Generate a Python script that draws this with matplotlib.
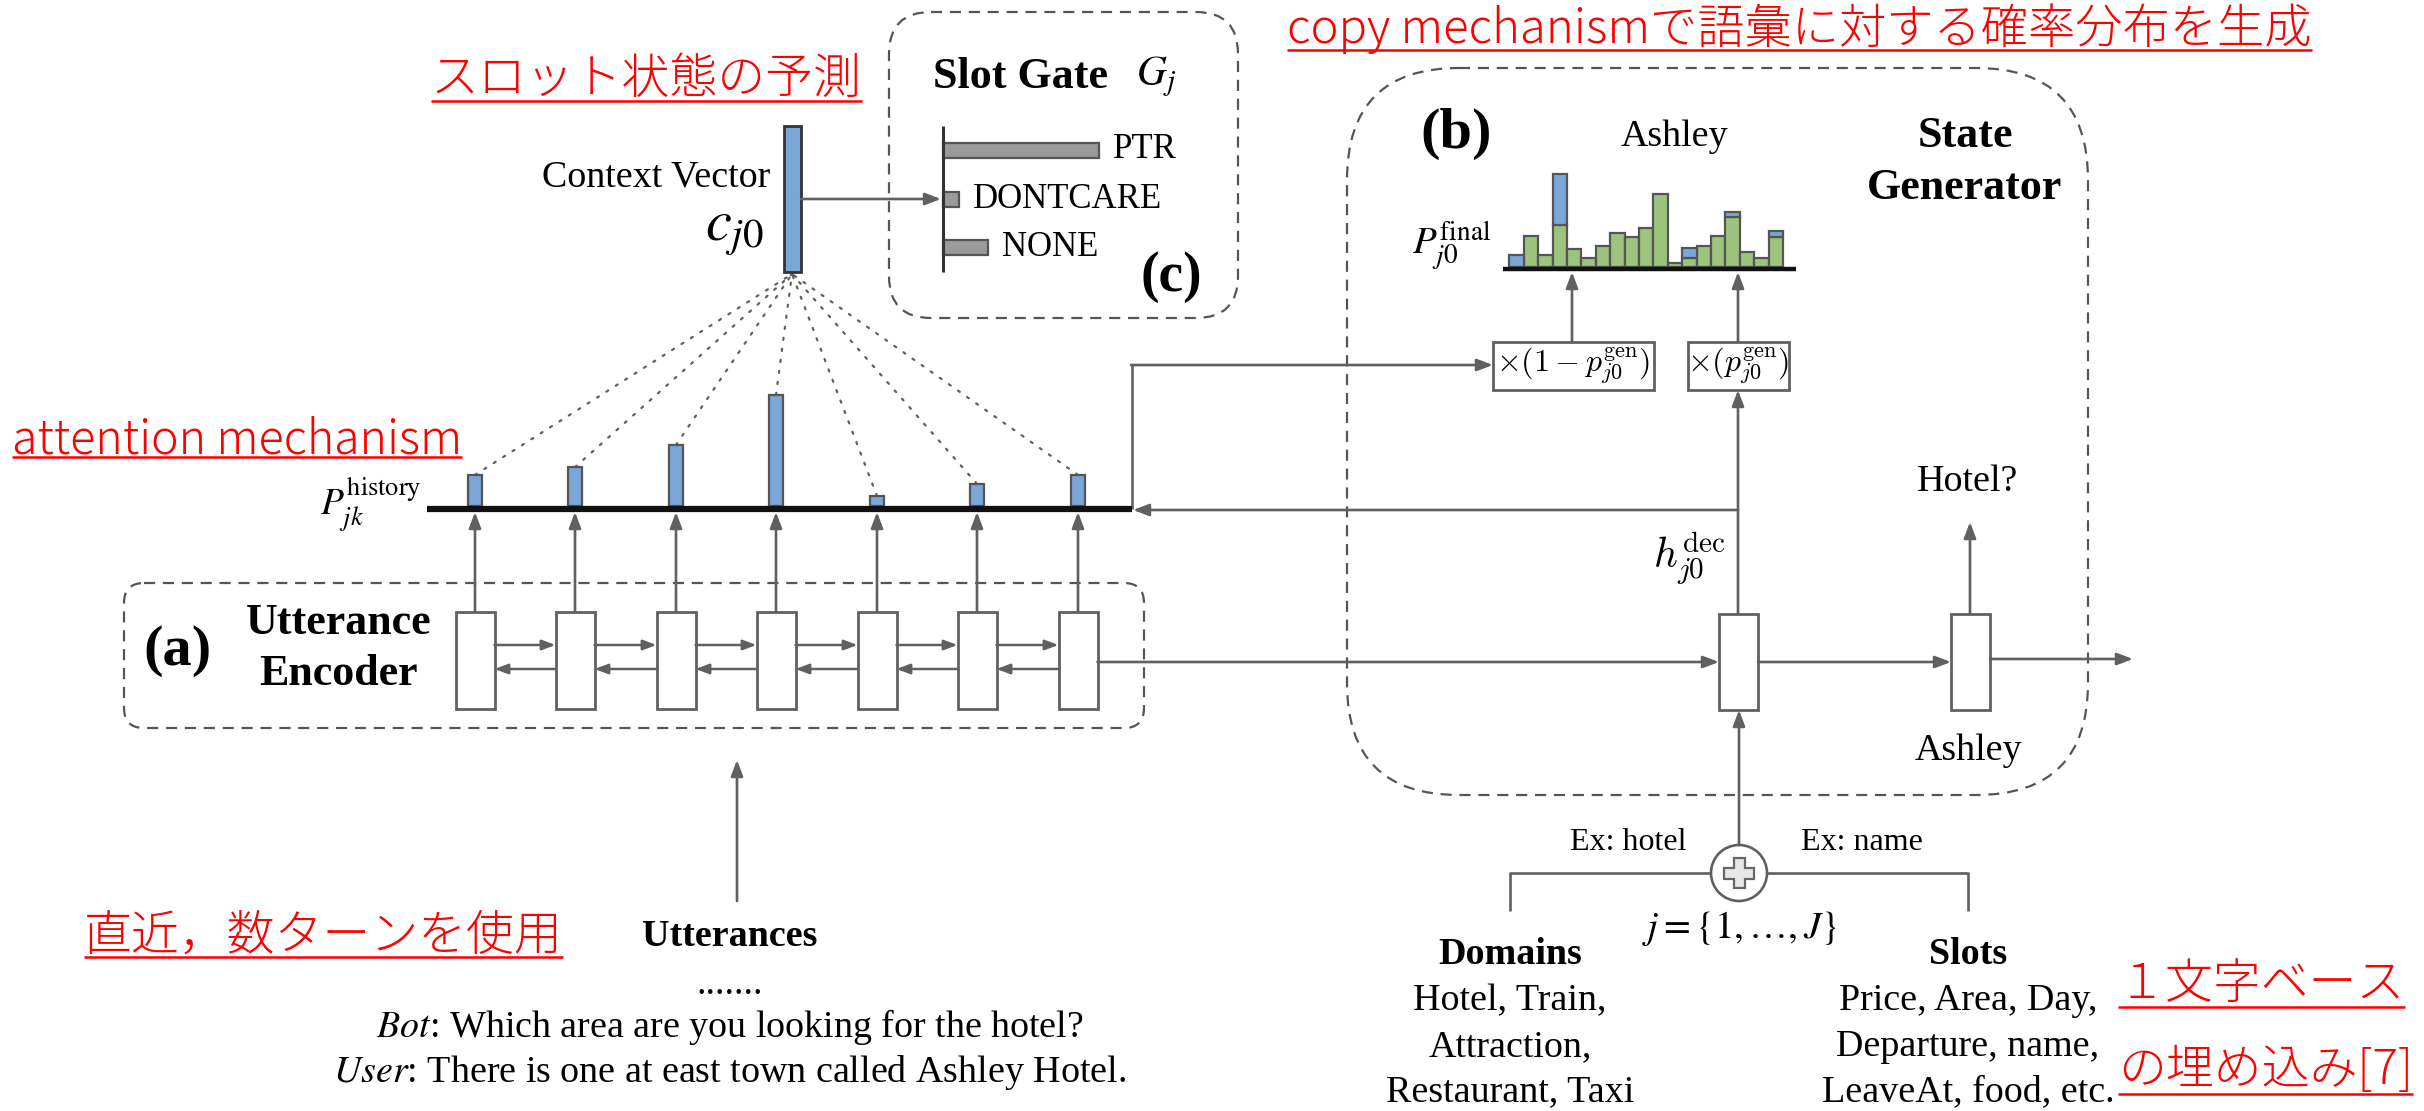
import matplotlib
matplotlib.use('Agg')
import matplotlib.pyplot as plt
from matplotlib.patches import FancyBboxPatch, Rectangle, Circle, Polygon
import numpy as np

# ---- data ----
attn_weights = [0.28, 0.35, 0.55, 1.0, 0.09, 0.20, 0.28]      # P_jk^history (relative)
final_gen = [0, 30.7, 11.7, 41.7, 18, 9, 21, 34, 30, 38.3, 72.7, 4, 8.3, 21, 30.7, 49.3, 14.7, 9, 30]
final_ptr = [11.7, 0, 0, 51, 0, 0, 0, 0, 0, 0, 0, 0, 10, 0, 0, 5.7, 0, 0, 6]
gate_labels = ['PTR', 'DONTCARE', 'NONE']
gate_values = [1.0, 0.10, 0.29]
domains = ['Hotel, Train,', 'Attraction,', 'Restaurant, Taxi']
slots = ['Price, Area, Day,', 'Departure, name,', 'LeaveAt, food, etc.']

SERIF = 'Liberation Serif'
JP = ['Noto Sans CJK JP', 'DejaVu Sans']
LINE = '#606060'
BLUE = '#7ba7d8'
GREEN = '#9cc47c'
EDGE = '#555555'
RED = '#ff0000'

fig = plt.figure(figsize=(24.24, 11.11), dpi=100)
ax = fig.add_axes([0, 0, 1, 1])
ax.set_xlim(0, 2424)
ax.set_ylim(1111, 0)
ax.axis('off')


def line(xs, ys, lw=1.9, color=LINE, **kw):
    ax.plot(xs, ys, color=color, lw=lw, solid_capstyle='butt', **kw)


def arrow(x0, y0, x1, y1, lw=1.9, hl=0.95, hw=0.36):
    ax.annotate('', xy=(x1, y1), xytext=(x0, y0),
                arrowprops=dict(arrowstyle='-|>,head_length=%g,head_width=%g' % (hl, hw),
                                mutation_scale=10, color=LINE, lw=lw,
                                shrinkA=0, shrinkB=0))


def txt(x, y, s, size=27.4, **kw):
    kw.setdefault('ha', 'center')
    kw.setdefault('va', 'center')
    kw.setdefault('family', SERIF)
    return ax.text(x, y, s, fontsize=size, **kw)


def red_note(x, y, s, uy, size=34.5):
    t = ax.text(x, y, s, fontsize=size, color=RED, family=JP, weight='light',
                ha='left', va='center')
    r = fig.canvas.get_renderer()
    bb = t.get_window_extent(r).transformed(ax.transData.inverted())
    line([bb.x0, bb.x1], [uy, uy], lw=1.8, color=RED)


def dashed_box(x0, y0, x1, y1, r):
    ax.add_patch(FancyBboxPatch((x0, y0), x1 - x0, y1 - y0,
                                boxstyle='round,pad=0,rounding_size=%g' % r,
                                fc='none', ec=EDGE, lw=1.6, ls=(0, (5, 3.5))))


# ---- (c) slot gate ----
dashed_box(889, 12, 1238, 318, 42)
txt(933, 77, 'Slot Gate', size=31.7, weight='bold', ha='left')
txt(1136, 77, r'$G_j$', size=30, ha='left', math_fontfamily='stix')
gate_y = [150, 199, 247]
ax.barh(gate_y, np.array(gate_values) * 156, left=943, height=15,
        color='#9a9a9a', edgecolor=EDGE, lw=1.6, zorder=2)
line([943, 943], [126, 272], lw=2.2, color='#333333', zorder=3)
for yy, lab, v in zip(gate_y, gate_labels, gate_values):
    txt(943 + v * 156 + 14, yy, lab, size=25, ha='left')
txt(1171, 277, '(c)', size=40, weight='bold')

# ---- context vector ----
ax.add_patch(Rectangle((784, 126), 17, 146, fc=BLUE, ec='#333333', lw=2, zorder=3))
txt(770, 177, 'Context Vector', ha='right')
txt(764, 232, r'$c_{j0}$', size=42, ha='right', math_fontfamily='stix')
arrow(801, 199, 941, 199)

# ---- attention over history ----
enc_x = np.array([475, 575, 676, 776, 877, 977, 1078])
base_y = 509
attn_h = np.array(attn_weights) * 111
ax.bar(enc_x, -attn_h, bottom=base_y - 3, width=14.5, color=BLUE,
       edgecolor=EDGE, lw=1.6, zorder=2)
line([427, 1132], [base_y, base_y], lw=4.5, color='#111111', zorder=3)
for xx, hh in zip(enc_x, attn_h):
    ax.plot([xx, 792], [base_y - 3 - hh, 274], color=LINE, lw=1.6,
            ls=(0, (1, 4)), dash_capstyle='round', zorder=1)
txt(421, 505, r'$P_{jk}^{\mathrm{history}}$', size=27, ha='right', math_fontfamily='stix')

# ---- (a) utterance encoder ----
dashed_box(124, 583, 1144, 728, 20)
txt(177, 651, '(a)', size=42, weight='bold')
txt(339, 623, 'Utterance', size=31.7, weight='bold')
txt(339, 674, 'Encoder', size=31.7, weight='bold')
bw = 39
for xx in enc_x:
    ax.add_patch(Rectangle((xx - bw / 2, 612), bw, 97, fc='white', ec=LINE, lw=2, zorder=3))
    arrow(xx, 612, xx, base_y + 3)
for xa, xb in zip(enc_x[:-1], enc_x[1:]):
    arrow(xa + bw / 2, 645, xb - bw / 2, 645, lw=1.8, hl=0.8, hw=0.3)
    arrow(xb - bw / 2, 669, xa + bw / 2, 669, lw=1.8, hl=0.8, hw=0.3)

# utterances
arrow(737, 901, 737, 760)
txt(730, 936, 'Utterances', weight='bold')
txt(730, 985, '.......')
txt(730, 1027, r'$\mathit{Bot}$: Which area are you looking for the hotel?', math_fontfamily='stix')
txt(730, 1073, r'$\mathit{User}$: There is one at east town called Ashley Hotel.', math_fontfamily='stix')

# ---- (b) state generator ----
dashed_box(1347, 68, 2088, 795, 112)
txt(1456, 134, '(b)', size=42, weight='bold')
txt(1674, 137, 'Ashley')
txt(1965, 136, 'State', size=31.7, weight='bold')
txt(1965, 188, 'Generator', size=31.7, weight='bold')

fx = 1516.5 + 14.4 * np.arange(len(final_gen))
fb = 266.5
gen = np.array(final_gen)
ptr = np.array(final_ptr)
mg = gen > 0
mp = ptr > 0
ax.bar(fx[mg], -gen[mg], bottom=fb, width=14.4, color=GREEN, edgecolor=EDGE, lw=1.6, zorder=2)
ax.bar(fx[mp], -ptr[mp], bottom=fb - gen[mp], width=14.4, color=BLUE, edgecolor=EDGE, lw=1.6, zorder=2)
line([1503, 1796], [268.5, 268.5], lw=3.2, color='#111111', zorder=3)
txt(1491, 246, r'$P_{j0}^{\mathrm{final}}$', size=28, ha='right', math_fontfamily='stix')

# gating boxes
ax.add_patch(Rectangle((1493, 342), 161, 48, fc='white', ec=LINE, lw=2))
ax.add_patch(Rectangle((1688, 342), 101, 48, fc='white', ec=LINE, lw=2))
txt(1573.5, 366, r'$\times(1-p_{j0}^{\mathrm{gen}})$', size=23, math_fontfamily='cm')
txt(1738.5, 366, r'$\times(p_{j0}^{\mathrm{gen}})$', size=23, math_fontfamily='cm')
arrow(1572, 342, 1572, 272)
arrow(1738, 342, 1738, 272)
line([1132, 1132], [base_y, 365])
arrow(1131, 365, 1493, 365)

# decoder
dec_x = [1738.5, 1970.5]
for xx in dec_x:
    ax.add_patch(Rectangle((xx - 19.5, 614), 39, 96, fc='white', ec=LINE, lw=2, zorder=3))
arrow(1738, 614, 1738, 390)
arrow(1738, 510, 1133, 510)
txt(1725, 558, r'$h_{j0}^{\mathrm{dec}}$', size=30, ha='right', math_fontfamily='cm')
arrow(1078 + bw / 2, 662, dec_x[0] - 19.5, 662)
arrow(dec_x[0] + 19.5, 662, dec_x[1] - 19.5, 662)
arrow(dec_x[1] + 19.5, 659, 2133, 659)
arrow(1970, 614, 1970, 522)
txt(1968, 482, 'Hotel?')
txt(1968, 751, 'Ashley')

# ---- domain / slot input ----
cx, cy = 1739, 873
ax.add_patch(Circle((cx, cy), 28, fc='white', ec=LINE, lw=1.9, zorder=3))
a, b = 5.5, 15
cross = [(-a, -b), (a, -b), (a, -a), (b, -a), (b, a), (a, a), (a, b), (-a, b),
         (-a, a), (-b, a), (-b, -a), (-a, -a)]
ax.add_patch(Polygon([(cx + p, cy + q) for p, q in cross], closed=True,
                     fc='#e8e8e8', ec='#666666', lw=1.6, zorder=4))
arrow(cx, cy - 28, cx, 710)
line([cx - 28, 1510, 1510], [cy, cy, 911])
line([cx + 28, 1968, 1968], [cy, cy, 911])
txt(1628, 842, 'Ex: hotel', size=23)
txt(1862, 842, 'Ex: name', size=23)
txt(1740, 929, r'$j=\{1,\ldots,J\}$', size=28, math_fontfamily='stix')
txt(1510, 955, 'Domains', weight='bold')
txt(1968, 955, 'Slots', weight='bold')
for i, (d, s) in enumerate(zip(domains, slots)):
    txt(1510, 1001 + 45.5 * i, d)
    txt(1968, 1001 + 45.5 * i, s)

# ---- red annotations ----
red_note(431, 79, 'スロット状態の予測', 101)
red_note(12, 440, 'attention mechanism', 457, size=33.5)
red_note(1287, 29, 'copy mechanismで語彙に対する確率分布を生成', 50, size=34)
red_note(84, 936, '直近，数ターンを使用', 957)
red_note(2118, 985, '１文字ベース', 1007)
red_note(2118, 1071, 'の埋め込み[7]', 1094)

fig.savefig('out.png', dpi=100)
